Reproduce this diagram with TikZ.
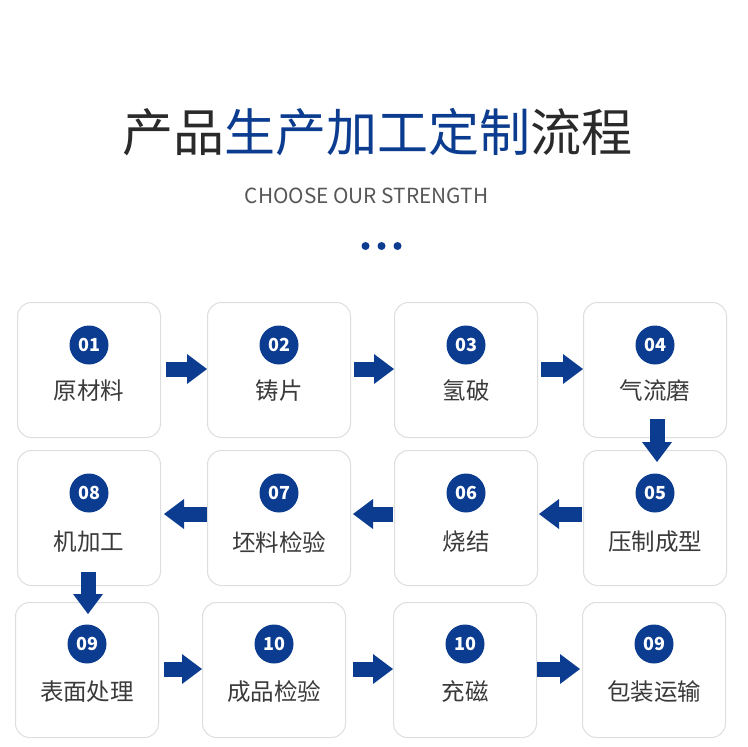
\documentclass[tikz,border=0pt]{standalone}
\usepackage{fontspec}
\setmainfont{Noto Sans CJK SC}
\usetikzlibrary{arrows.meta}
\definecolor{navy}{HTML}{0C3C90}
\definecolor{ink}{HTML}{3A3A3A}
\definecolor{dark}{HTML}{2A2A2A}
\definecolor{edge}{HTML}{DEDEDE}
\begin{document}
\begin{tikzpicture}[x=1pt,y=-1pt,
  box/.style={draw=edge, line width=1pt, fill=white, rounded corners=14pt,
    minimum width=143pt, minimum height=135pt, anchor=north west, inner sep=0pt},
  num/.style={circle, fill=navy, text=white, minimum size=39pt, inner sep=0pt,
    font=\fontsize{18}{18}\selectfont\bfseries},
  lab/.style={text=ink, inner sep=0pt, font=\fontsize{23.5}{24}\selectfont},
  flow/.style={navy, line width=15pt,
    -{Triangle[length=20pt,width=30pt,line width=0pt]}},
  dot/.style={circle, fill=navy, minimum size=8pt, inner sep=0pt}]
\fill[white] (0,0) rectangle (748,747);
\useasboundingbox (0,0) rectangle (748,747);

\node[font=\fontsize{51}{51}\selectfont, inner sep=0pt] (title) at (377.5,132)
  {{\color{dark}产品}{\color{navy}生产加工定制}{\color{dark}流程}};
\node[font=\fontsize{20.8}{21}\selectfont, text=ink!85, inner sep=0pt] (sub) at (366.5,195.5)
  {CHOOSE OUR STRENGTH};
\node[dot] (d1) at (365.5,246) {};
\node[dot] (d2) at (381.5,246) {};
\node[dot] (d3) at (397.5,246) {};

% row 1
\node[box] (b1) at (17,302) {};
\node[box] (b2) at (207,302) {};
\node[box] (b3) at (394,302) {};
\node[box] (b4) at (583,302) {};
% row 2
\node[box] (b8) at (17,450) {};
\node[box] (b7) at (207,450) {};
\node[box] (b6) at (394,450) {};
\node[box] (b5) at (583,450) {};
% row 3
\node[box] (b9) at (15,602) {};
\node[box] (b10) at (202,602) {};
\node[box] (b11) at (393,602) {};
\node[box] (b12) at (582,602) {};

\foreach \b/\n/\t in {b1/01/原材料, b2/02/铸片, b3/03/氢破, b4/04/气流磨}{
  \node[num] (n\b) at ([yshift=-43pt]\b.north) {\n};
  \node[lab] (t\b) at ([yshift=-89pt]\b.north) {\t};
}
\foreach \b/\n/\t in {b5/05/压制成型, b6/06/烧结, b7/07/坯料检验, b8/08/机加工}{
  \node[num] (n\b) at ([yshift=-43pt]\b.north) {\n};
  \node[lab] (t\b) at ([yshift=-92pt]\b.north) {\t};
}
\foreach \b/\n/\t in {b9/09/表面处理, b10/10/成品检验, b11/10/充磁, b12/09/包装运输}{
  \node[num] (n\b) at ([yshift=-42pt]\b.north) {\n};
  \node[lab] (t\b) at ([yshift=-90pt]\b.north) {\t};
}

% arrows
\draw[flow] ([xshift=5pt,yshift=1pt]b1.east) -- ([yshift=1pt]b2.west);
\draw[flow] ([xshift=3pt,yshift=1pt]b2.east) -- ([yshift=1pt]b3.west);
\draw[flow] ([xshift=3pt,yshift=1pt]b3.east) -- ([yshift=1pt]b4.west);
\draw[flow] ([xshift=2pt,yshift=19pt]b4.south) -- ([xshift=2pt,yshift=-12pt]b5.north);
\draw[flow] ([xshift=-1pt,yshift=4pt]b5.west) -- ([xshift=1pt,yshift=4pt]b6.east);
\draw[flow] ([xshift=-1pt,yshift=4pt]b6.west) -- ([xshift=2pt,yshift=4pt]b7.east);
\draw[flow] ([yshift=4pt]b7.west) -- ([xshift=3pt,yshift=4pt]b8.east);
\draw[flow] ([xshift=-1pt,yshift=14pt]b8.south) -- ([xshift=1pt,yshift=-12pt]b9.north);
\draw[flow] ([xshift=5pt,yshift=1pt]b9.east) -- ([yshift=1pt]b10.west);
\draw[flow] ([xshift=7pt,yshift=1pt]b10.east) -- ([yshift=1pt]b11.west);
\draw[flow] ([yshift=1pt]b11.east) -- ([xshift=-2pt,yshift=1pt]b12.west);
\end{tikzpicture}
\end{document}
